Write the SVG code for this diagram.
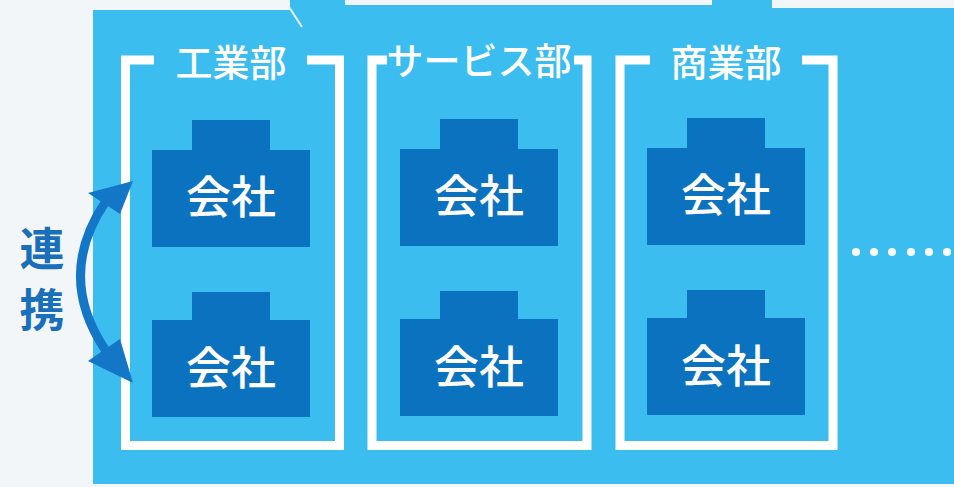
<svg xmlns="http://www.w3.org/2000/svg" width="954" height="487" viewBox="0 0 954 487">
<style>
.frame{fill:none;stroke:#ffffff;stroke-width:9;stroke-linecap:butt;stroke-linejoin:miter}
.co{fill:#0b72c0}
.ttl{fill:#ffffff;font-family:"Noto Sans CJK JP","Noto Sans",sans-serif;font-size:37px;font-weight:500;text-anchor:middle}
.cot{fill:#ffffff;font-family:"Noto Sans CJK JP","Noto Sans",sans-serif;font-size:45px;font-weight:500;text-anchor:middle}
.side{fill:#1a6fba;font-family:"Noto Sans CJK JP","Noto Sans",sans-serif;font-size:45px;font-weight:700;text-anchor:middle}
.dot{fill:#ffffff}
</style>
<rect x="0" y="0" width="954" height="487" fill="#f3f6f9"/>
<g id="panel">
<rect x="93" y="10" width="861" height="474" fill="#3cbdef"/>
<rect x="290" y="0" width="55" height="10" fill="#3cbdef"/>
<rect x="345" y="5" width="367" height="5" fill="#3cbdef"/>
<rect x="712" y="0" width="60" height="10" fill="#3cbdef"/>
<rect x="772" y="8" width="182" height="2" fill="#3cbdef"/>
<line x1="289" y1="7" x2="302" y2="27" stroke="#eaf6fc" stroke-width="2"/>
</g>
<g id="dept-industry">
<path class="frame" d="M154 60 H125.5 V445.5 H339.5 V60 H307"/>
<text class="ttl" x="231" y="77">工業部</text>
</g>
<g id="dept-service">
<path class="frame" d="M387 60 H372 V445.5 H587 V60 H574"/>
<text class="ttl" x="479" y="75">サービス部</text>
</g>
<g id="dept-commerce">
<path class="frame" d="M650 60 H620 V445.5 H833 V60 H802"/>
<text class="ttl" x="726" y="77">商業部</text>
</g>
<g id="company-1a">
<rect class="co" x="192" y="120" width="78" height="31"/>
<rect class="co" x="152" y="150" width="158" height="97"/>
<text class="cot" x="231" y="214">会社</text>
</g>
<g id="company-1b">
<rect class="co" x="192" y="292" width="78" height="29"/>
<rect class="co" x="152" y="320" width="158" height="97"/>
<text class="cot" x="231" y="385">会社</text>
</g>
<g id="company-2a">
<rect class="co" x="440" y="119" width="78" height="31"/>
<rect class="co" x="400" y="149" width="158" height="97"/>
<text class="cot" x="479" y="213">会社</text>
</g>
<g id="company-2b">
<rect class="co" x="440" y="291" width="78" height="29"/>
<rect class="co" x="400" y="319" width="158" height="97"/>
<text class="cot" x="479" y="384">会社</text>
</g>
<g id="company-3a">
<rect class="co" x="687" y="118" width="78" height="31"/>
<rect class="co" x="647" y="148" width="158" height="97"/>
<text class="cot" x="726" y="212">会社</text>
</g>
<g id="company-3b">
<rect class="co" x="687" y="290" width="78" height="29"/>
<rect class="co" x="647" y="318" width="158" height="97"/>
<text class="cot" x="726" y="383">会社</text>
</g>
<g id="more">
<circle class="dot" cx="856" cy="252" r="4"/>
<circle class="dot" cx="874" cy="252" r="4"/>
<circle class="dot" cx="892" cy="252" r="4"/>
<circle class="dot" cx="911" cy="252" r="4"/>
<circle class="dot" cx="929" cy="252" r="4"/>
<circle class="dot" cx="947" cy="252" r="4"/>
</g>
<g id="label-renkei">
<text class="side" x="42" y="266">連</text>
<text class="side" x="42" y="327">携</text>
</g>
<g id="connectors">
<path d="M106 201 Q55 276 106 351" fill="none" stroke="#1476c6" stroke-width="9"/>
<polygon points="133,181 88,193 120,214" fill="#1476c6"/>
<polygon points="133,383 88,361 120,339" fill="#1476c6"/>
</g>
</svg>
